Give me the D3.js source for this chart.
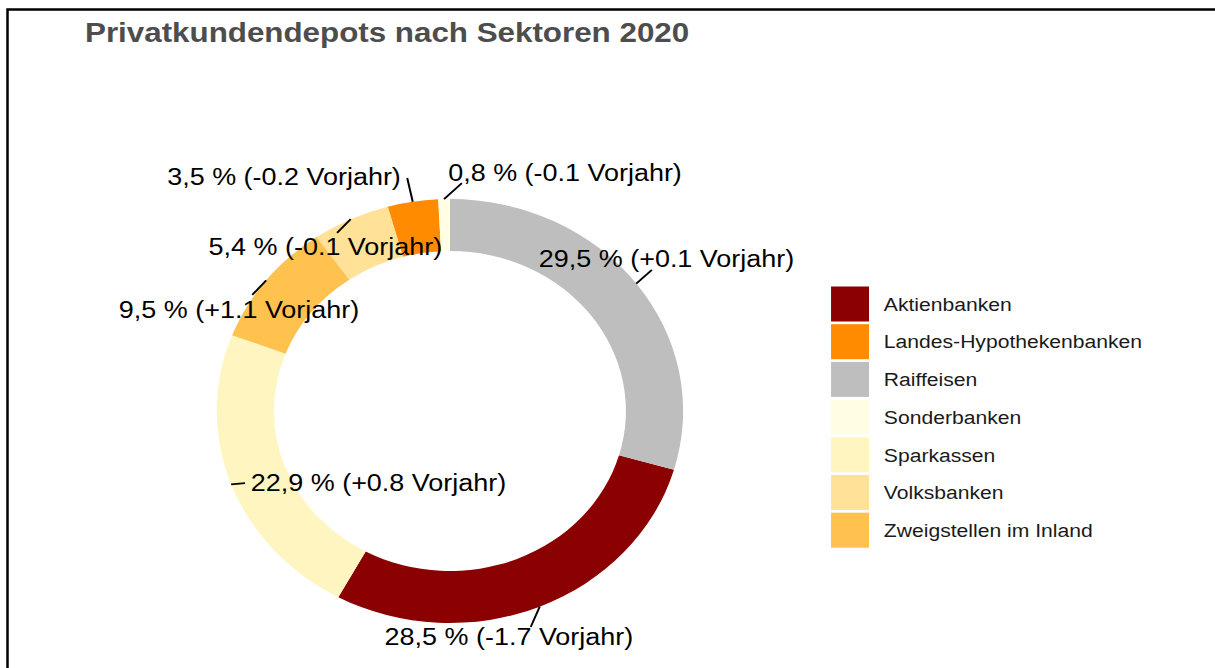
<!DOCTYPE html>
<html>
<head>
<meta charset="utf-8">
<script src="https://cdn.jsdelivr.net/npm/d3@7"></script>
<style>
  body { margin: 0; background: #fff; }
  svg { display: block; }
  text { font-family: "Liberation Sans", Arial, Helvetica, sans-serif; }
</style>
</head>
<body>
<svg id="chart" width="1215" height="668"></svg>
<script>
// --- data (legend order) ---
var categories = ["Aktienbanken", "Landes-Hypothekenbanken", "Raiffeisen", "Sonderbanken",
	"Sparkassen", "Volksbanken", "Zweigstellen im Inland"];
var shares = [28.5, 3.5, 29.5, 0.8, 22.9, 5.4, 9.5];
var changes = ["-1.7", "-0.2", "+0.1", "-0.1", "+0.8", "-0.1", "+1.1"];
var colors = ["#8b0000", "#ff8c00", "#bebebe", "#fffde4", "#fff5c0", "#ffe298", "#ffc24f"];

// where the repelled labels ended up, relative to their slice (layout only)
var labelNudge = [[-28, 30], [-117, -25.5], [27.5, -25], [110, -27], [134, -1.5], [-23, 27], [-24.7, 29.5]];
var lineEnd = [[-8.2, 20.4], [-5, -23.7], [14.2, -13.7], [16.2, -16], [12.7, -1.2], [-12.4, 13.8], [-12.7, 14.5]];

var W = 1215, H = 668;
var stretch = 1.1;   // the original picture is a bit wider than tall
var cx = 409, cy = 411, outerR = 212, innerR = 160;

var rows = categories.map(function(c, i) {
	return { name: c, value: shares[i], change: changes[i], color: colors[i],
		nudge: labelNudge[i], line: lineEnd[i] };
});

var svg = d3.select("#chart");

// frame
svg.append("rect")
	.attr("x", 7.5).attr("y", 9.5)
	.attr("width", W + 20).attr("height", H + 20)
	.attr("fill", "none")
	.attr("stroke", "#000")
	.attr("stroke-width", 2.5);

var root = svg.append("g").attr("transform", "scale(" + stretch + ",1)");

root.append("text")
	.attr("x", 77.3)
	.attr("y", 42)
	.attr("fill", "#4d4d4d")
	.style("font-size", "28.5px")
	.style("font-weight", "bold")
	.text("Privatkundendepots nach Sektoren 2020");

// donut, biggest slice first, clockwise from 12 o'clock
var pie = d3.pie()
	.value(function(d) { return d.value; })
	.sort(function(a, b) { return b.value - a.value; });
var arcs = pie(rows);

var arc = d3.arc().innerRadius(innerR).outerRadius(outerR);

var donut = root.append("g").attr("transform", "translate(" + cx + "," + cy + ")");
donut.selectAll("path.slice")
	.data(arcs)
	.enter()
	.append("path")
	.attr("class", "slice")
	.attr("d", arc)
	.attr("fill", function(d) { return d.data.color; });

// labels with leader lines
arcs.forEach(function(d) {
	var mid = (d.startAngle + d.endAngle) / 2;
	var ax = cx + outerR * Math.sin(mid);
	var ay = cy - outerR * Math.cos(mid);

	root.append("line")
		.attr("x1", ax).attr("y1", ay)
		.attr("x2", ax + d.data.line[0]).attr("y2", ay + d.data.line[1])
		.attr("stroke", "#000")
		.attr("stroke-width", 1.8);

	root.append("text")
		.attr("x", ax + d.data.nudge[0])
		.attr("y", ay + d.data.nudge[1])
		.attr("dy", "0.35em")
		.attr("text-anchor", "middle")
		.attr("fill", "#000")
		.style("font-size", "24.5px")
		.text(d.data.value.toFixed(1).replace(".", ",") + " % (" + d.data.change + " Vorjahr)");
});

// legend
var legend = root.append("g").attr("transform", "translate(755.5,286.5)");
var item = legend.selectAll("g.item")
	.data(rows)
	.enter()
	.append("g")
	.attr("class", "item")
	.attr("transform", function(d, i) { return "translate(0," + (i * 37.7) + ")"; });

item.append("rect")
	.attr("width", 34.5)
	.attr("height", 35)
	.attr("fill", function(d) { return d.color; });

item.append("text")
	.attr("x", 48)
	.attr("y", 17.5)
	.attr("dy", "0.35em")
	.attr("fill", "#1a1a1a")
	.style("font-size", "19.2px")
	.text(function(d) { return d.name; });
</script>
</body>
</html>
